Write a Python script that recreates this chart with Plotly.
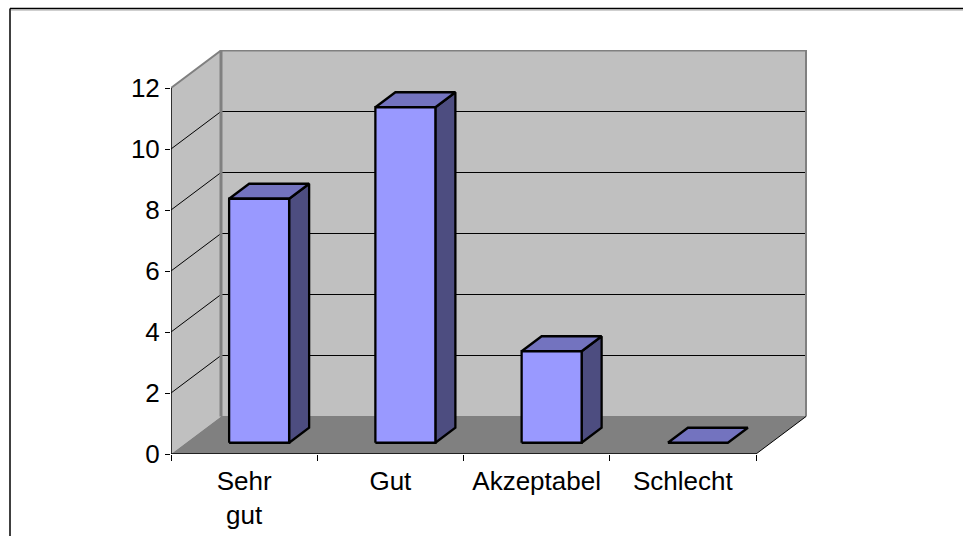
import plotly.graph_objects as go

categories = ["Sehr<br>gut", "Gut", "Akzeptabel", "Schlecht"]
values = [8, 11, 3, 0]
y_ticks = [0, 2, 4, 6, 8, 10, 12]

W, H = 963, 536
L, R, T, B = 171, 807, 50, 454      # plot box in pixels
UX = 146.25                         # px per category
UY = 30.5                           # px per value unit
DX = 50 / UX                        # depth in data units
DY = 37.5 / UY
BAR_W = 60 / UX
YMAX = 12
NC = len(categories)

WALL, FLOOR, EDGE = "#C0C0C0", "#808080", "#808080"
FRONT, TOP, SIDE = "#9999FF", "#7373BF", "#4D4D80"

fig = go.Figure()

def poly(xs, ys, fill, line="rgba(0,0,0,0)", width=0):
    fig.add_trace(go.Scatter(x=xs, y=ys, mode="lines", fill="toself", fillcolor=fill,
                             line=dict(color=line, width=width), hoverinfo="skip",
                             showlegend=False, cliponaxis=False))

def seg(xs, ys, color="#000000", width=1):
    fig.add_trace(go.Scatter(x=xs, y=ys, mode="lines", line=dict(color=color, width=width),
                             hoverinfo="skip", showlegend=False, cliponaxis=False))

# walls and floor
poly([0, 0, DX, DX, 0], [0, YMAX, YMAX + DY, DY, 0], WALL)
poly([DX, DX, NC + DX, NC + DX, DX], [DY, YMAX + DY, YMAX + DY, DY, DY], WALL)
poly([0, NC, NC + DX, DX, 0], [0, 0, DY, DY, 0], FLOOR)

# gridlines
for v in y_ticks[1:-1]:
    seg([0, DX, NC + DX], [v, v + DY, v + DY], "#000000", 1)

# wall edges
seg([0, DX, NC + DX, NC + DX], [YMAX, YMAX + DY, YMAX + DY, DY], EDGE, 2)
seg([DX, DX], [DY, YMAX + DY], EDGE, 3)
seg([DX, NC + DX], [DY, DY], EDGE, 1)

# axes
seg([0, 0], [0, YMAX], "#000000", 1.5)
seg([0, NC], [0, 0], "#000000", 1.5)
seg([NC, NC + DX], [0, DY], "#000000", 1)

# bars
for i, v in enumerate(values):
    x0 = i + 0.5 + 0.3 * DX - BAR_W / 2
    x1 = x0 + BAR_W
    y0 = 0.3 * DY
    y1 = y0 + v
    dx, dy = 0.4 * DX, 0.4 * DY
    if v > 0:
        poly([x1, x1 + dx, x1 + dx, x1, x1], [y0, y0 + dy, y1 + dy, y1, y0], SIDE, "#000000", 2.3)
    poly([x0, x1, x1 + dx, x0 + dx, x0], [y1, y1, y1 + dy, y1 + dy, y1], TOP, "#000000", 2.3)
    if v > 0:
        poly([x0, x1, x1, x0, x0], [y0, y0, y1, y1, y0], FRONT, "#000000", 2.3)

font = dict(family="Liberation Sans, Arial, sans-serif", size=26, color="#000000")

def px(x):
    return (x - L) / (R - L)

def py(y):
    return (B - y) / (B - T)

# outer chart frame
shapes = [
    dict(type="line", xref="paper", yref="paper", x0=px(10), x1=px(10), y0=py(H), y1=py(8.5),
         line=dict(color="#000000", width=1.5)),
    dict(type="line", xref="paper", yref="paper", x0=px(10), x1=px(W), y0=py(8.5), y1=py(8.5),
         line=dict(color="#000000", width=1.5)),
    dict(type="line", xref="paper", yref="paper", x0=px(11), x1=px(W), y0=py(10), y1=py(10),
         line=dict(color="#A0A0A0", width=1)),
]

fig.update_layout(
    width=W, height=H, autosize=False,
    margin=dict(l=L, r=W - R, t=T, b=H - B, pad=0, autoexpand=False),
    paper_bgcolor="#FFFFFF", plot_bgcolor="rgba(0,0,0,0)",
    shapes=shapes, showlegend=False,
    xaxis=dict(range=[0, (R - L) / UX], tickmode="array", automargin=False,
               tickvals=[i + 0.5 for i in range(NC)], ticktext=categories,
               ticks="", showgrid=False, zeroline=False, showline=False,
               tickfont=font, ticklabelstandoff=9,
               minor=dict(tickmode="array", tickvals=list(range(NC + 1)), ticks="outside",
                          ticklen=6, tickwidth=1, tickcolor="#000000", showgrid=False)),
    yaxis=dict(range=[0, (B - T) / UY], tickmode="array", tickvals=y_ticks, automargin=False,
               ticktext=[str(v) for v in y_ticks], ticks="outside", ticklen=5, tickwidth=1,
               tickcolor="#000000", showgrid=False, zeroline=False, showline=False,
               tickfont=font),
)

fig.write_html("out.html", config=dict(displayModeBar=False, responsive=False),
               default_width="963px", default_height="536px",
               post_script="document.body.style.margin='0';document.body.style.overflow='hidden';")
